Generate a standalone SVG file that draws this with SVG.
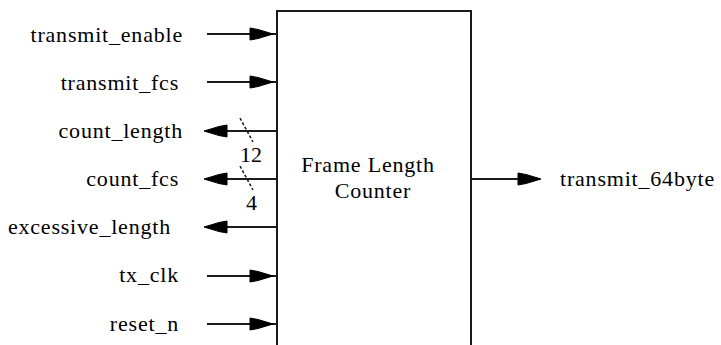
<svg xmlns="http://www.w3.org/2000/svg" width="721" height="345" viewBox="0 0 721 345">
<defs>
<path id="ar" d="M0,-6 L8,-4.5 L23,0 L8,4.5 L0,6 Z" fill="#000" stroke="#000" stroke-width="1"/>
</defs>
<rect width="721" height="345" fill="#fff"/>
<g id="block">
<path d="M277,346 V11 H471 V346" fill="none" stroke="#1a1a1a" stroke-width="2"/>
<text x="368" y="172" text-anchor="middle" font-size="22" style="font-family:'Liberation Serif',serif;letter-spacing:0.8px">Frame Length</text>
<text x="373" y="198" text-anchor="middle" font-size="22" style="font-family:'Liberation Serif',serif;letter-spacing:0.8px">Counter</text>
</g>
<g id="connectors" stroke="#1a1a1a" stroke-width="2" fill="none">
<line x1="207" y1="34" x2="277" y2="34"/>
<use href="#ar" transform="translate(250,34)"/>
<line x1="207" y1="82" x2="277" y2="82"/>
<use href="#ar" transform="translate(250,82)"/>
<line x1="206" y1="131" x2="277" y2="131"/>
<use href="#ar" transform="translate(227,131) scale(-1,1)"/>
<line x1="240" y1="118" x2="253" y2="142" stroke-width="1.5" stroke-dasharray="3 2"/>
<line x1="206" y1="179" x2="277" y2="179"/>
<use href="#ar" transform="translate(227,179) scale(-1,1)"/>
<line x1="240" y1="166" x2="253" y2="190" stroke-width="1.5" stroke-dasharray="3 2"/>
<line x1="206" y1="227" x2="277" y2="227"/>
<use href="#ar" transform="translate(227,227) scale(-1,1)"/>
<line x1="207" y1="276" x2="277" y2="276"/>
<use href="#ar" transform="translate(250,276)"/>
<line x1="207" y1="324" x2="277" y2="324"/>
<use href="#ar" transform="translate(250,324)"/>
<line x1="471" y1="179" x2="538" y2="179"/>
<use href="#ar" transform="translate(518,179)"/>
</g>
<g id="labels">
<text x="183" y="42" text-anchor="end" font-size="22" style="font-family:'Liberation Serif',serif;letter-spacing:0.8px">transmit_enable</text>
<text x="179" y="90" text-anchor="end" font-size="22" style="font-family:'Liberation Serif',serif;letter-spacing:0.8px">transmit_fcs</text>
<text x="183" y="138" text-anchor="end" font-size="22" style="font-family:'Liberation Serif',serif;letter-spacing:0.8px">count_length</text>
<text x="179" y="186" text-anchor="end" font-size="22" style="font-family:'Liberation Serif',serif;letter-spacing:0.8px">count_fcs</text>
<text x="171" y="234" text-anchor="end" font-size="22" style="font-family:'Liberation Serif',serif;letter-spacing:0.8px">excessive_length</text>
<text x="179" y="282" text-anchor="end" font-size="22" style="font-family:'Liberation Serif',serif;letter-spacing:0.8px">tx_clk</text>
<text x="179" y="331" text-anchor="end" font-size="22" style="font-family:'Liberation Serif',serif;letter-spacing:0.8px">reset_n</text>
<text x="560" y="186" font-size="22" style="font-family:'Liberation Serif',serif;letter-spacing:0.8px">transmit_64byte</text>
<text x="240" y="162" font-size="22" style="font-family:'Liberation Serif',serif">12</text>
<text x="246" y="210" font-size="22" style="font-family:'Liberation Serif',serif">4</text>
</g>
</svg>
